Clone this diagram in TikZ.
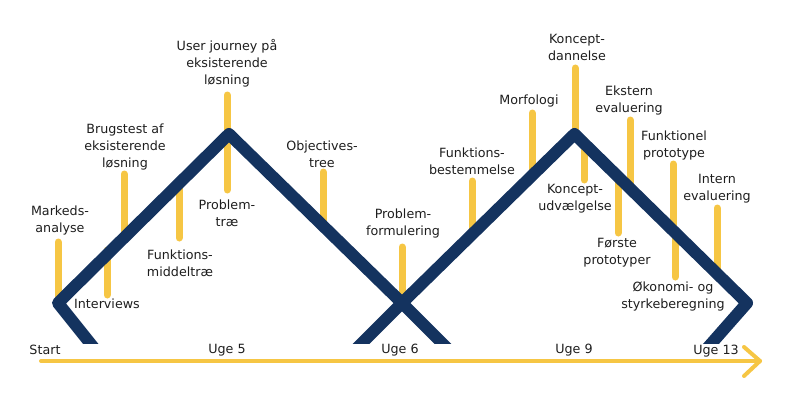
\documentclass[tikz,border=0pt]{standalone}
\usepackage{fontspec}
\setmainfont{DejaVu Sans}
\definecolor{navy}{HTML}{14335F}
\definecolor{gold}{HTML}{F6C644}
\definecolor{ink}{HTML}{1E1E1E}
\begin{document}
\begin{tikzpicture}[x=1pt,y=-1pt,
  bar/.style={gold, line width=7pt, line cap=round},
  vline/.style={navy, line width=12pt, line join=round},
  lbl/.style={align=center, font=\fontsize{12.7}{17}\selectfont, text=ink, inner sep=0pt},
  axis/.style={gold, line width=4pt, line cap=round, line join=round},
]
\useasboundingbox (0,0) rectangle (800,412);
% ---- yellow bars
\foreach \n/\x/\ya/\yb in {b1/58/242/300, b2/107/250/295, b3/124/174/235, b4/179/185/238,
  b5/227/95/190, b6/323/172/225, b7/402/247/300, b8/472/181/230, b9/532/113/172,
  b10/575/68/135, b11/584/140/180, b12/630/120/188, b13/618/176/233, b14/673/164/232,
  b15/675/232/277, b16/717/208/275}{
  \coordinate (\n a) at (\x,\ya);
  \coordinate (\n b) at (\x,\yb);
  \draw[bar] (\n a) -- (\n b);
}
% ---- blue zigzag (clipped at the bottom)
\coordinate (l0) at (98,353);
\coordinate (lv) at (58,303);
\coordinate (p1) at (229,134);
\coordinate (cx) at (402,303);
\coordinate (r0) at (452,353);
\coordinate (m0) at (352,353);
\coordinate (p2) at (574.5,134);
\coordinate (rv) at (747,303);
\coordinate (e0) at (703,353);
\begin{scope}
  \clip (0,0) rectangle (800,343);
  \draw[vline] (l0) -- (lv) -- (p1) -- (cx) -- (r0);
  \draw[vline] (m0) -- (cx) -- (p2) -- (rv) -- (e0);
\end{scope}
% ---- timeline
\coordinate (t0) at (41,361);
\coordinate (t1) at (760,361);
\coordinate (ta) at (744,347);
\coordinate (tb) at (744,376);
\draw[axis] (t0) -- (t1);
\draw[axis] (ta) -- (t1) -- (tb);
% ---- labels
\node[lbl] (markeds) at (60,220.5) {Markeds-\\analyse};
\node[lbl] (interviews) at (107,304) {Interviews};
\node[lbl] (brugstest) at (125,147) {Brugstest af\\eksisterende\\løsning};
\node[lbl] (fmt) at (180,263.5) {Funktions-\\middeltræ};
\node[lbl] (journey) at (227,63) {User journey på\\eksisterende\\løsning};
\node[lbl] (ptrae) at (227,213.5) {Problem-\\træ};
\node[lbl] (obj) at (322,154) {Objectives-\\tree};
\node[lbl] (pform) at (403,223.5) {Problem-\\formulering};
\node[lbl] (fbest) at (472,161.5) {Funktions-\\bestemmelse};
\node[lbl] (morf) at (529,101) {Morfologi};
\node[lbl] (kdan) at (577,47) {Koncept-\\dannelse};
\node[lbl] (kudv) at (575,198.5) {Koncept-\\udvælgelse};
\node[lbl] (ekst) at (629,100.5) {Ekstern\\evaluering};
\node[lbl] (forste) at (617,253) {Første\\prototyper};
\node[lbl] (fproto) at (674,145) {Funktionel\\prototype};
\node[lbl] (okon) at (673,296.5) {Økonomi- og\\styrkeberegning};
\node[lbl] (intern) at (717,188.5) {Intern\\evaluering};
\node[lbl] (start) at (45,350) {Start};
\node[lbl] (u5) at (227,350) {Uge 5};
\node[lbl] (u6) at (400,350) {Uge 6};
\node[lbl] (u9) at (574,350) {Uge 9};
\node[lbl] (u13) at (716,351) {Uge 13};
\end{tikzpicture}
\end{document}
